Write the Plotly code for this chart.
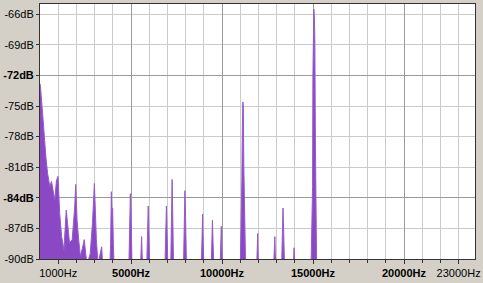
import plotly.graph_objects as go

# ---- data ----
freq_hz = [
    0, 20, 146, 232, 324, 416, 540, 632, 719, 811, 903, 989, 1081, 1189, 1313,
    1443, 1530, 1622, 1767, 1908, 1962, 2038, 2124, 2216, 2324, 2432, 2524, 2594,
    2757, 2881, 2989, 3027, 3097, 3189, 3324, 3389, 3459,
    3830, 3880, 3920, 3960, 3990, 4030, 4080,
    4880, 4930, 4965, 5010, 5060,
    5520, 5560, 5583, 5610, 5650,
    5860, 5910, 5946, 5980, 6030,
    6860, 6910, 6946, 6990, 7030,
    7180, 7220, 7259, 7300, 7340,
    7880, 7920, 7962, 8000, 8050,
    8860, 8900, 8935, 8970, 9010,
    9400, 9440, 9475, 9510, 9560,
    9890, 9930, 9962, 10000, 10040,
    11000, 11050, 11090, 11120, 11145, 11170, 11200, 11230, 11270, 11300,
    11900, 11940, 11962, 11990, 12030,
    12830, 12870, 12902, 12930, 12980,
    13270, 13310, 13351, 13390, 13440,
    13910, 13945, 13962, 13985, 14020,
    14890, 14935, 14975, 14995, 15015, 15045, 15075, 15100, 15130, 15170, 15200,
    23900,
]
level_db = [
    -72.8, -73.0, -75.8, -78.0, -80.0, -81.6, -82.9, -82.4, -83.2, -84.2, -82.3, -81.9, -85.5, -87.8, -89.1,
    -85.2, -86.8, -88.4, -88.1, -84.9, -82.7, -86.2, -88.1, -89.7, -89.0, -88.1, -89.7, -90.5,
    -89.5, -86.5, -82.6, -85.0, -88.1, -90.5, -89.5, -88.8, -91.0,
    -91.0, -88.5, -83.4, -86.0, -85.0, -88.5, -91.0,
    -91.0, -88.0, -83.6, -86.5, -91.0,
    -91.0, -89.0, -87.8, -89.5, -91.0,
    -91.0, -87.5, -84.8, -87.0, -91.0,
    -91.0, -87.0, -84.8, -88.0, -91.0,
    -91.0, -85.5, -82.2, -86.5, -91.0,
    -91.0, -86.5, -83.3, -86.0, -91.0,
    -91.0, -88.0, -85.6, -88.5, -91.0,
    -91.0, -88.5, -86.2, -88.5, -91.0,
    -91.0, -89.0, -86.8, -89.5, -91.0,
    -91.0, -87.0, -82.3, -77.0, -74.6, -75.0, -81.0, -85.0, -88.7, -91.0,
    -91.0, -89.5, -87.5, -89.8, -91.0,
    -91.0, -89.3, -87.8, -89.5, -91.0,
    -91.0, -88.0, -85.0, -87.5, -91.0,
    -91.0, -90.0, -88.9, -90.2, -91.0,
    -91.0, -86.0, -82.9, -72.0, -66.0, -65.5, -66.3, -68.5, -78.0, -85.0, -91.0,
    -91.0,
]
floor_x = [0, 23900]
floor_db = [-100, -100]

x_range = [0, 23900]
y_range = [-90, -65]
x_tick_vals = [1000, 5000, 10000, 15000, 20000, 23000]
x_tick_text = ["1000Hz", "<b>5000Hz</b>", "<b>10000Hz</b>", "<b>15000Hz</b>", "<b>20000Hz</b>", "23000Hz"]
x_minor_vals = [1000, 2000, 3000, 4000, 6000, 7000, 8000, 9000, 11000, 12000, 13000, 14000,
                16000, 17000, 18000, 19000, 21000, 22000, 23000]
x_major_grid = [5000, 10000, 15000, 20000]
y_tick_vals = [-66, -69, -72, -75, -78, -81, -84, -87, -90]
y_tick_text = ["-66dB", "-69dB", "<b>-72dB</b>", "-75dB", "-78dB", "-81dB", "<b>-84dB</b>", "-87dB", "-90dB"]
y_minor_vals = [-66, -69, -75, -78, -81, -87]
y_major_grid = [-72, -84]

PURPLE = "rgb(138,72,196)"
LIGHT_GRID = "#CBCBCB"
DARK_GRID = "#9A9A9A"

fig = go.Figure()
fig.add_trace(go.Scatter(x=floor_x, y=floor_db, mode="lines", line=dict(width=0),
                         showlegend=False, hoverinfo="skip"))
fig.add_trace(go.Scatter(x=freq_hz, y=level_db, mode="lines", fill="tonexty",
                         fillcolor=PURPLE, line=dict(color="rgb(150,90,205)", width=1),
                         showlegend=False))
fig.add_trace(go.Scatter(x=[], y=[], xaxis="x2", yaxis="y2", showlegend=False, hoverinfo="skip"))

font = dict(family="Liberation Sans, Arial, sans-serif", size=11, color="#000000")

fig.update_layout(
    width=483, height=283,
    margin=dict(l=34, r=7, t=3, b=24),
    paper_bgcolor="#D4D0C8",
    plot_bgcolor="#FFFFFF",
    font=font,
    xaxis=dict(
        range=x_range, tickmode="array", tickvals=x_tick_vals, ticktext=x_tick_text,
        showgrid=False, zeroline=False, ticks="outside", ticklen=4, tickcolor="#333333",
        showline=True, mirror=True, linecolor="#333333", linewidth=1,
        minor=dict(tickmode="array", tickvals=x_minor_vals, showgrid=True, gridcolor=LIGHT_GRID,
                   gridwidth=1, ticks="outside", ticklen=3, tickcolor="#333333"),
        tickfont=font,
    ),
    yaxis=dict(
        range=y_range, tickmode="array", tickvals=y_tick_vals, ticktext=y_tick_text,
        showgrid=False, zeroline=False, ticks="outside", ticklen=3, tickcolor="#333333",
        showline=True, mirror=True, linecolor="#333333", linewidth=1,
        minor=dict(tickmode="array", tickvals=y_minor_vals, showgrid=True, gridcolor=LIGHT_GRID,
                   gridwidth=1, ticks=""),
        tickfont=font,
    ),
    xaxis2=dict(
        overlaying="x", anchor="y", range=x_range, tickmode="array", tickvals=x_major_grid,
        showgrid=True, gridcolor=DARK_GRID, gridwidth=1, showticklabels=False, ticks="",
        zeroline=False, showline=False,
    ),
    yaxis2=dict(
        overlaying="y", anchor="x", range=y_range, tickmode="array", tickvals=y_major_grid,
        showgrid=True, gridcolor=DARK_GRID, gridwidth=1, showticklabels=False, ticks="",
        zeroline=False, showline=False,
    ),
)

fig.write_html("out.html")
